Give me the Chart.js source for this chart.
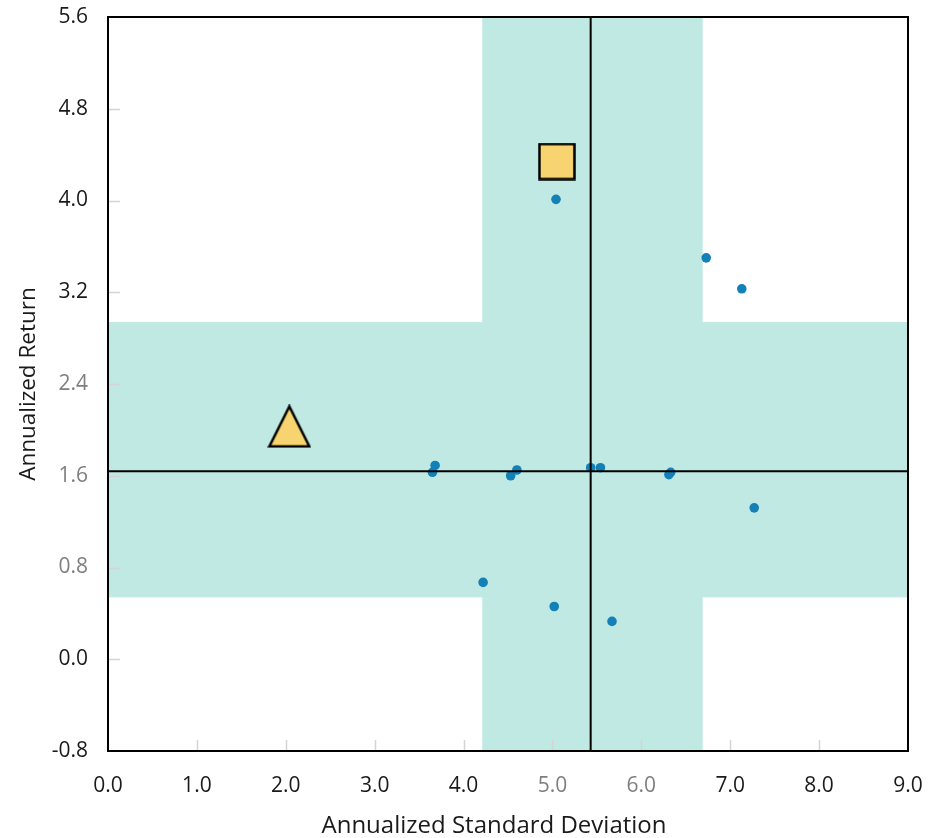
<!DOCTYPE html>
<html>
<head>
<meta charset="utf-8">
<script src="https://cdn.jsdelivr.net/npm/chart.js@4/dist/chart.umd.min.js"></script>
<style>
  html, body { margin: 0; padding: 0; background: #ffffff; }
  #wrap { width: 943px; height: 838px; }
</style>
</head>
<body>
<div id="wrap"><canvas id="c" width="943" height="838"></canvas></div>
<script>
// ---- data ----
const fundX = [5.04, 6.73, 7.13, 7.27, 4.22, 5.02, 5.67, 3.68, 3.65, 4.53, 4.60, 5.43, 5.54, 6.31, 6.33];
const fundY = [4.01, 3.50, 3.23, 1.32, 0.67, 0.46, 0.33, 1.69, 1.63, 1.60, 1.65, 1.67, 1.67, 1.61, 1.63];
const squareX = [5.05];
const squareY = [4.34];
const triangleX = [2.04];
const triangleY = [2.03];
const xBand = [4.21, 6.69];
const yBand = [0.54, 2.94];
const meanX = 5.43;
const meanY = 1.64;
const xTicks = [0, 1, 2, 3, 4, 5, 6, 7, 8, 9];
const yTicks = [5.6, 4.8, 4.0, 3.2, 2.4, 1.6, 0.8, 0.0, -0.8];
const xTitle = 'Annualized Standard Deviation';
const yTitle = 'Annualized Return';

const BAND = '#c0e9e3';
const DOT = '#1380b8';
const GOLD = '#f7d46f';
const FONT = "'Open Sans', 'Noto Sans', sans-serif";

function toPts(xs, ys) { return xs.map((x, i) => ({ x: x, y: ys[i] })); }

// custom marker images
function makeSquare() {
  const c = document.createElement('canvas');
  c.width = 38; c.height = 38;
  const g = c.getContext('2d');
  g.fillStyle = GOLD;
  g.fillRect(1.5, 1.5, 35, 35);
  g.lineWidth = 2.5;
  g.strokeStyle = '#000';
  g.strokeRect(1.5, 1.5, 35, 35);
  return c;
}
function makeTriangle() {
  const c = document.createElement('canvas');
  c.width = 44; c.height = 44;
  const g = c.getContext('2d');
  g.beginPath();
  g.moveTo(22, 2);
  g.lineTo(42, 42);
  g.lineTo(2, 42);
  g.closePath();
  g.fillStyle = GOLD;
  g.fill();
  g.lineWidth = 2.5;
  g.lineJoin = 'miter';
  g.strokeStyle = '#000';
  g.stroke();
  return c;
}

const decor = {
  id: 'decor',
  beforeDatasetsDraw(chart) {
    const { ctx } = chart;
    const xs = chart.scales.x, ys = chart.scales.y;
    const L = xs.getPixelForValue(xs.min), R = xs.getPixelForValue(xs.max);
    const T = ys.getPixelForValue(ys.max), B = ys.getPixelForValue(ys.min);
    ctx.save();
    ctx.fillStyle = BAND;
    const bx1 = xs.getPixelForValue(xBand[0]), bx2 = xs.getPixelForValue(xBand[1]);
    const by1 = ys.getPixelForValue(yBand[1]), by2 = ys.getPixelForValue(yBand[0]);
    ctx.fillRect(bx1, T, bx2 - bx1, B - T);
    ctx.fillRect(L, by1, R - L, by2 - by1);
    // inward tick marks
    ctx.strokeStyle = '#d4d4d4';
    ctx.lineWidth = 1.5;
    ctx.beginPath();
    xTicks.forEach(v => {
      if (v === xs.min || v === xs.max) return;
      const p = Math.round(xs.getPixelForValue(v)) + 0.5;
      ctx.moveTo(p, B); ctx.lineTo(p, B - 11);
    });
    yTicks.forEach(v => {
      if (v === ys.min || v === ys.max) return;
      const p = Math.round(ys.getPixelForValue(v)) + 0.5;
      ctx.moveTo(L, p); ctx.lineTo(L + 12, p);
    });
    ctx.stroke();
    ctx.restore();
  },
  afterDatasetsDraw(chart) {
    const { ctx } = chart;
    const xs = chart.scales.x, ys = chart.scales.y;
    const L = xs.getPixelForValue(xs.min), R = xs.getPixelForValue(xs.max);
    const T = ys.getPixelForValue(ys.max), B = ys.getPixelForValue(ys.min);
    ctx.save();
    ctx.strokeStyle = '#000';
    ctx.lineWidth = 2;
    const mx = xs.getPixelForValue(meanX), my = ys.getPixelForValue(meanY);
    ctx.beginPath();
    ctx.moveTo(mx, T); ctx.lineTo(mx, B);
    ctx.moveTo(L, my); ctx.lineTo(R, my);
    ctx.stroke();
    ctx.strokeRect(L, T, R - L, B - T);
    // x axis title (slightly left of the plot centre, as in the source)
    ctx.fillStyle = '#1a1a1a';
    ctx.font = '24px ' + FONT;
    ctx.textAlign = 'center';
    ctx.textBaseline = 'alphabetic';
    ctx.fillText(xTitle, (L + R) / 2 - 14, B + 82);
    ctx.restore();
  }
};

function tickColor(band) {
  return (c) => {
    const v = c.tick ? c.tick.value : null;
    if (v === null) return '#1a1a1a';
    return (v >= band[0] && v <= band[1]) ? '#7f7f7f' : '#1a1a1a';
  };
}

new Chart(document.getElementById('c'), {
  type: 'scatter',
  data: {
    datasets: [
      {
        label: 'Funds',
        data: toPts(fundX, fundY),
        backgroundColor: DOT,
        borderColor: DOT,
        pointRadius: 4.8,
        pointBorderWidth: 0,
        order: 3
      },
      {
        label: 'Square',
        data: toPts(squareX, squareY),
        pointStyle: makeSquare(),
        order: 1
      },
      {
        label: 'Triangle',
        data: toPts(triangleX, triangleY),
        pointStyle: makeTriangle(),
        order: 2
      }
    ]
  },
  options: {
    responsive: false,
    animation: false,
    layout: { padding: { top: 17, right: 35, left: 0, bottom: 0 } },
    plugins: {
      legend: { display: false },
      tooltip: { enabled: false }
    },
    scales: {
      x: {
        type: 'linear',
        min: 0, max: 9,
        afterBuildTicks(s) { s.ticks = xTicks.map(v => ({ value: v })); },
        afterFit(s) { s.height = 87; s.paddingLeft = 0; s.paddingRight = 0; },
        grid: { display: false, drawTicks: false },
        border: { display: false },
        ticks: {
          padding: 22,
          color: tickColor(xBand),
          font: { family: FONT, size: 21 },
          callback: (v) => Number(v).toFixed(1)
        },
        title: { display: false, text: xTitle }
      },
      y: {
        type: 'linear',
        min: -0.8, max: 5.6,
        afterBuildTicks(s) { s.ticks = yTicks.map(v => ({ value: v })); },
        afterFit(s) { s.width = 108; s.paddingTop = 0; s.paddingBottom = 0; },
        grid: { display: false, drawTicks: false },
        border: { display: false },
        ticks: {
          padding: 20,
          color: tickColor(yBand),
          font: { family: FONT, size: 21 },
          callback: (v) => Number(v).toFixed(1)
        },
        title: {
          display: true,
          text: yTitle,
          color: '#1a1a1a',
          font: { family: FONT, size: 22.5 },
          padding: { top: 15, bottom: 0 }
        }
      }
    }
  },
  plugins: [decor]
});
</script>
</body>
</html>
